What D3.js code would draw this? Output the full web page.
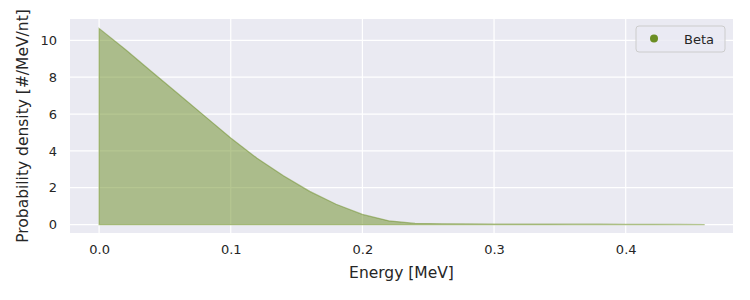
<!DOCTYPE html>
<html>
<head>
<meta charset="utf-8">
<script src="https://cdn.jsdelivr.net/npm/d3@7"></script>
<style>
  body { margin: 0; background: #fff; }
  text { font-family: "DejaVu Sans", sans-serif; fill: #262626; }
</style>
</head>
<body>
<div id="chart"></div>
<script>
// beta spectrum
var energy = [0.00, 0.02, 0.04, 0.06, 0.08, 0.10, 0.12, 0.14, 0.16, 0.18, 0.20, 0.22, 0.24,
              0.26, 0.28, 0.30, 0.32, 0.34, 0.36, 0.38, 0.40, 0.42, 0.44, 0.46];
var density = [10.65, 9.5, 8.3, 7.1, 5.9, 4.7, 3.6, 2.65, 1.8, 1.1, 0.55, 0.2, 0.06,
               0.04, 0.035, 0.03, 0.028, 0.025, 0.02, 0.017, 0.013, 0.01, 0.005, 0.0];
var xTicks = [0, 0.1, 0.2, 0.3, 0.4];
var yTicks = [0, 2, 4, 6, 8, 10];
var seriesName = "Beta";

var width = 750, height = 300;
var margin = {top: 19, right: 17, bottom: 67, left: 70};

var svg = d3.select("#chart").append("svg")
    .attr("width", width)
    .attr("height", height);

var x = d3.scaleLinear()
    .domain([-0.0221, 0.4815])
    .range([margin.left, width - margin.right]);

var y = d3.scaleLinear()
    .domain([-0.46, 11.16])
    .range([height - margin.bottom, margin.top]);

// plot background
svg.append("rect")
    .attr("x", margin.left)
    .attr("y", margin.top)
    .attr("width", width - margin.left - margin.right)
    .attr("height", height - margin.top - margin.bottom)
    .attr("fill", "#eaeaf2");

// grid
svg.append("g").selectAll("line")
    .data(xTicks)
    .enter().append("line")
    .attr("x1", function(d) { return x(d); })
    .attr("x2", function(d) { return x(d); })
    .attr("y1", margin.top)
    .attr("y2", height - margin.bottom)
    .attr("stroke", "#fff")
    .attr("stroke-width", 1.2);

svg.append("g").selectAll("line")
    .data(yTicks)
    .enter().append("line")
    .attr("x1", margin.left)
    .attr("x2", width - margin.right)
    .attr("y1", function(d) { return y(d); })
    .attr("y2", function(d) { return y(d); })
    .attr("stroke", "#fff")
    .attr("stroke-width", 1.2);

// area
var pts = energy.map(function(e, i) { return [e, density[i]]; });

var area = d3.area()
    .x(function(d) { return x(d[0]); })
    .y0(y(0))
    .y1(function(d) { return y(d[1]); });

svg.append("path")
    .datum(pts)
    .attr("d", area)
    .attr("fill", "#6b8e23")
    .attr("fill-opacity", 0.5)
    .attr("stroke", "#6b8e23")
    .attr("stroke-opacity", 0.5)
    .attr("stroke-width", 1.2);

// axes
var xAxis = svg.append("g")
    .attr("transform", "translate(0," + (height - margin.bottom) + ")")
    .call(d3.axisBottom(x).tickValues(xTicks).tickFormat(d3.format(".1f")).tickSize(0).tickPadding(12));

var yAxis = svg.append("g")
    .attr("transform", "translate(" + margin.left + ",0)")
    .call(d3.axisLeft(y).tickValues(yTicks).tickFormat(d3.format("d")).tickSize(0).tickPadding(13));

xAxis.select(".domain").remove();
yAxis.select(".domain").remove();
svg.selectAll(".tick text")
    .attr("font-size", 13)
    .attr("font-family", "DejaVu Sans, sans-serif")
    .attr("fill", "#262626");

svg.append("text")
    .attr("x", (margin.left + width - margin.right) / 2)
    .attr("y", 278)
    .attr("text-anchor", "middle")
    .attr("font-size", 15.5)
    .text("Energy [MeV]");

svg.append("text")
    .attr("transform", "translate(28," + ((margin.top + height - margin.bottom) / 2) + ") rotate(-90)")
    .attr("text-anchor", "middle")
    .attr("font-size", 15.5)
    .text("Probability density [#/MeV/nt]");

// legend
var legend = svg.append("g").attr("transform", "translate(636,26)");
legend.append("rect")
    .attr("width", 89)
    .attr("height", 26)
    .attr("rx", 3)
    .attr("fill", "#eaeaf2")
    .attr("fill-opacity", 0.8)
    .attr("stroke", "#cccccc");
legend.append("circle")
    .attr("cx", 18)
    .attr("cy", 12.5)
    .attr("r", 4)
    .attr("fill", "#6b8e23");
legend.append("text")
    .attr("x", 48)
    .attr("y", 17.5)
    .attr("font-size", 13)
    .text(seriesName);
</script>
</body>
</html>
